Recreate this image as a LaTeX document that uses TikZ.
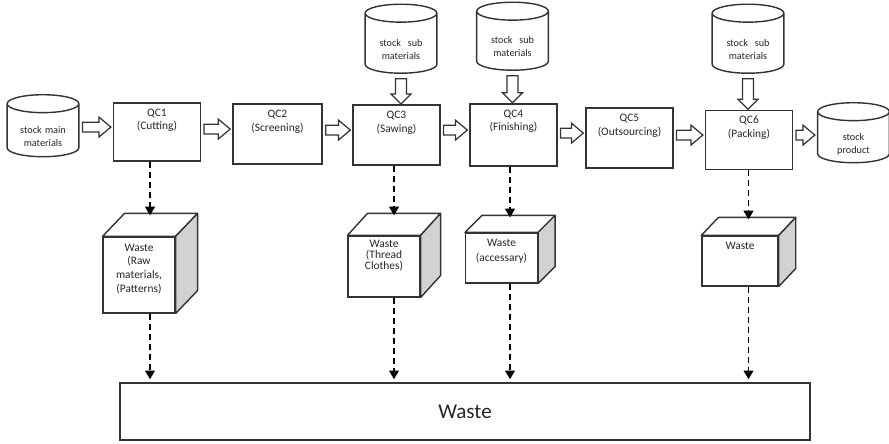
\documentclass[tikz,border=0pt]{standalone}
\usepackage{fontspec}
\setmainfont{Carlito}
\usetikzlibrary{arrows.meta, shapes.geometric, calc}

% hollow block arrows between two nodes
\newcommand{\flowright}[2]{%
  \draw[flowarrow] let \p1=(#1), \p2=(#2) in
    (\x1+1.7pt,\y2+5.6pt) -- (\x2-8pt,\y2+5.6pt) -- (\x2-8pt,\y2+8.5pt)
    -- (\x2-1.2pt,\y2+2.8pt) -- (\x2-8pt,\y2-2.9pt) -- (\x2-8pt,\y2)
    -- (\x1+1.7pt,\y2) -- cycle;}
\newcommand{\flowdown}[2]{%
  \draw[flowarrow] let \p1=(#1), \p2=(#2) in
    (\x1-3.1pt,\y1-2.8pt) -- (\x1-3.1pt,\y2+6pt) -- (\x1-5.7pt,\y2+6pt)
    -- (\x1,\y2+0.3pt) -- (\x1+5.7pt,\y2+6pt) -- (\x1+3.1pt,\y2+6pt)
    -- (\x1+3.1pt,\y1-2.8pt) -- cycle;}
% top and side faces of a waste cube
\newcommand{\cubefaces}[3]{%
  \draw[cubeface] (#1.north west) -- ++(#2,-#3) -- ($(#1.north east)+(#2,-#3)$) -- (#1.north east) -- cycle;
  \draw[cubeface, fill=gray!35] (#1.north east) -- ++(#2,-#3) -- ($(#1.south east)+(#2,-#3)$) -- (#1.south east) -- cycle;
  \coordinate (#1top) at ($(#1.north)+(#2/2,-#3)$);}

\begin{document}
\begin{tikzpicture}[
  x=0.02cm, y=-0.02cm,
  every node/.style={font=\fontsize{6.5}{7.8}\selectfont, text=black!85},
  qcbox/.style={draw=black!80, line width=0.8pt, fill=white, align=center,
    text width=1.5cm, minimum width=1.66cm, text height=4.5pt, text depth=23.5pt,
    inner ysep=3pt},
  store/.style={draw=black!80, line width=0.8pt, fill=white, cylinder,
    shape border rotate=90, aspect=0.25, align=center, text width=1.2cm,
    text height=6.6pt, text depth=6.2pt, font=\fontsize{5.8}{7.2}\selectfont},
  wastebox/.style={draw=black!80, line width=0.8pt, fill=white, align=center,
    text width=1.2cm, inner ysep=3pt},
  cubeface/.style={draw=black!80, line width=0.8pt, fill=white, line join=round},
  flowarrow/.style={draw=black!80, line width=0.7pt, fill=white},
  wastearrow/.style={line width=1.1pt, dash pattern=on 3.4pt off 2.3pt,
    -{Triangle[length=5pt, width=5.5pt]}}
]
  \useasboundingbox (0,0) rectangle (889,443);

  % stores
  \node[store, minimum width=1.4cm, minimum height=1.24cm] (smain) at (43,133) {stock main\\materials};
  \node[store, minimum width=1.36cm, minimum height=1.38cm] (ssub3) at (401,46) {stock~~sub\\materials};
  \node[store, minimum width=1.38cm, minimum height=1.36cm] (ssub4) at (512.5,43.5) {stock~~sub\\materials};
  \node[store, minimum width=1.4cm, minimum height=1.38cm] (ssub6) at (748,46) {stock~~sub\\materials};
  \node[store, minimum width=1.38cm, minimum height=1.2cm] (sprod) at (853.5,140) {stock\\product};

  % QC stations
  \node[qcbox, minimum width=1.64cm, text depth=22.4pt] (qc1) at (157,132) {QC1\\(Cutting)};
  \node[qcbox, minimum width=1.78cm] (qc2) at (277.5,134) {QC2\\(Screening)};
  \node[qcbox] (qc3) at (396.5,135) {QC3\\(Sawing)};
  \node[qcbox, text depth=24.7pt] (qc4) at (513.5,135) {QC4\\(Finishing)};
  \node[qcbox] (qc5) at (629.5,138) {QC5\\(Outsourcing)};
  \node[qcbox, minimum width=1.64cm, text depth=23pt] (qc6) at (749,140) {QC6\\(Packing)};

  % waste cubes
  \node[wastebox, minimum width=1.32cm, text height=5pt, text depth=32.1pt] (cube1) at (139,275) {Waste\\(Raw\\materials,\\(Patterns)};
  \node[wastebox, minimum width=1.4cm, text height=3.2pt, text depth=25.4pt] (cube2) at (384,266.5) {Waste\\[-1.5pt](Thread\\[-1.5pt]Clothes)};
  \node[wastebox, minimum width=1.42cm, text height=4.8pt, text depth=17.5pt] (cube3) at (501.5,258) {Waste\\[0.7pt](accessary)};
  \node[wastebox, minimum width=1.52cm, text height=4.8pt, text depth=17.5pt] (cube4) at (740,261) {Waste};
  \cubefaces{cube1}{22}{23}
  \cubefaces{cube2}{20}{22}
  \cubefaces{cube3}{17}{17}
  \cubefaces{cube4}{17}{18}

  \node[draw=black!80, line width=0.8pt, minimum width=13.8cm, minimum height=1.14cm,
    font=\fontsize{12}{14}\selectfont] (waste) at (465,411.5) {Waste};

  % material flow
  \flowright{smain.east}{qc1.west}
  \flowright{qc1.east}{qc2.west}
  \flowright{qc2.east}{qc3.west}
  \flowright{qc3.east}{qc4.west}
  \flowright{qc4.east}{qc5.west}
  \flowright{qc5.east}{qc6.west}
  \flowright{qc6.east}{sprod.west}
  \flowdown{ssub3.south}{qc3.north}
  \flowdown{ssub4.south}{qc4.north}
  \flowdown{ssub6.south}{qc6.north}

  % waste flow
  \foreach \qc/\cube in {qc1/cube1, qc3/cube2, qc4/cube3, qc6/cube4} {
    \draw[wastearrow] (\qc.south -| \cube top) -- ($(\cube top)+(0,2)$);
    \draw[wastearrow] (\cube.south -| \cube top) -- ($(waste.north -| \cube top)+(0,-3)$);
  }
\end{tikzpicture}
\end{document}
